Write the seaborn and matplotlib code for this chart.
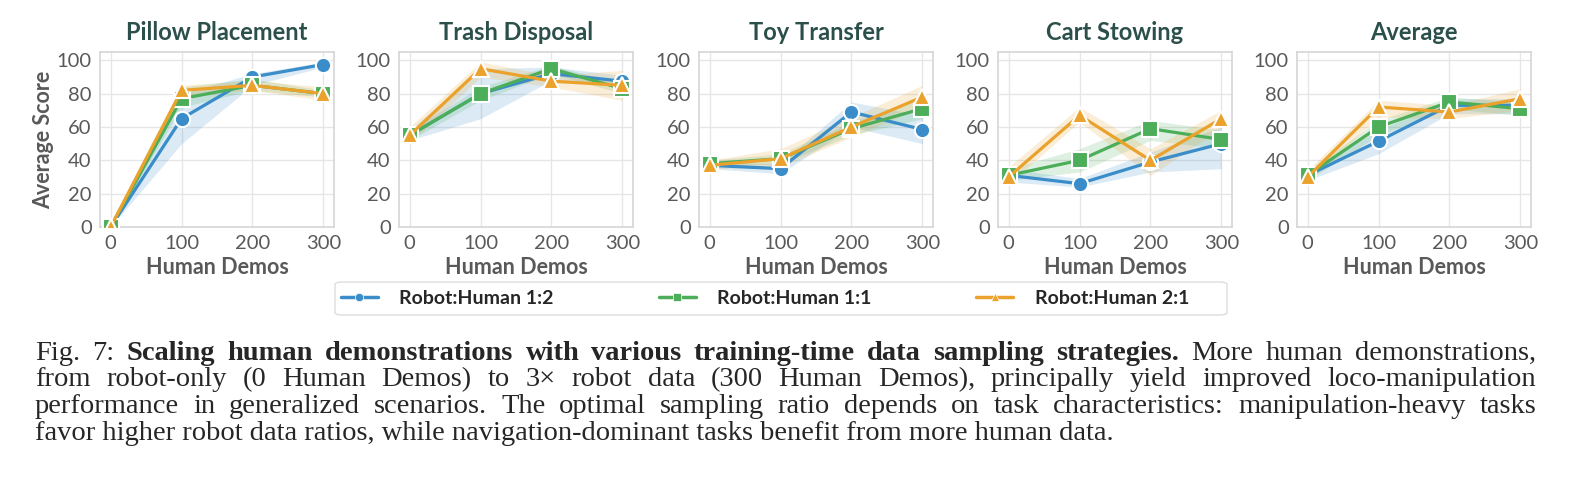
import numpy as np
import pandas as pd
import seaborn as sns
import matplotlib.pyplot as plt
from matplotlib import font_manager
from matplotlib.lines import Line2D
from matplotlib.patches import FancyBboxPatch

# ---- data ----
tasks = ["Pillow Placement", "Trash Disposal", "Toy Transfer", "Cart Stowing", "Average"]
demos = [0, 100, 200, 300]
ratios = ["Robot:Human 1:2", "Robot:Human 1:1", "Robot:Human 2:1"]

mean_12 = [[0, 65, 90, 97.5], [55, 80, 92, 87.5], [37, 35, 69, 58.5], [31, 26, 39, 50], [31, 51.5, 73, 73]]
mean_11 = [[0, 77, 85, 80], [55, 80, 95, 83], [38, 41, 59, 71], [31, 40, 59, 52.5], [31, 60, 75, 71]]
mean_21 = [[0, 82, 85, 80], [55, 95, 87.5, 85], [37, 41, 60, 78], [30, 67, 40, 65], [30, 72, 69, 77]]

lo_12 = [[0, 50, 85, 96], [52, 65, 88, 84], [35, 32, 60, 50], [27, 24, 33, 35], [28, 44, 68, 68]]
hi_12 = [[0, 80, 92, 99], [58, 95, 96, 91], [39, 38, 75, 67], [35, 29, 45, 60], [34, 58, 77, 77]]
lo_11 = [[0, 72, 82, 78], [52, 76, 92, 80], [36, 38, 55, 65], [28, 33, 52, 47], [28, 55, 71, 67]]
hi_11 = [[0, 84, 89, 82], [58, 84, 97, 86], [40, 44, 63, 77], [35, 47, 64, 58], [34, 64, 78, 75]]
lo_21 = [[0, 79, 82, 76], [50, 90, 84, 76], [35, 36, 54, 72], [26, 63, 31, 59], [27, 66, 65, 70]]
hi_21 = [[0, 85, 88, 84], [60, 99, 91, 94], [40, 47, 66, 85], [36, 72, 47, 70], [34, 76, 73, 83]]

caption = [
    [("Fig. 7:", "normal"), ("Scaling human demonstrations with various training-time data sampling strategies.", "bold"),
     ("More human demonstrations,", "normal")],
    [("from robot-only (0 Human Demos) to 3\u00d7 robot data (300 Human Demos), principally yield improved loco-manipulation", "normal")],
    [("performance in generalized scenarios. The optimal sampling ratio depends on task characteristics: manipulation-heavy tasks", "normal")],
    [("favor higher robot data ratios, while navigation-dominant tasks benefit from more human data.", "normal")],
]

means = [mean_12, mean_11, mean_21]
lows = [lo_12, lo_11, lo_21]
highs = [hi_12, hi_11, hi_21]

rows = []
for t, task in enumerate(tasks):
    for r, ratio in enumerate(ratios):
        for d, demo in enumerate(demos):
            rows.append({"task": task, "ratio": ratio, "demos": demo,
                         "score": means[r][t][d], "lo": lows[r][t][d], "hi": highs[r][t][d]})
df = pd.DataFrame(rows)

palette = {"Robot:Human 1:2": "#3a8dc8", "Robot:Human 1:1": "#4dae5a", "Robot:Human 2:1": "#eba22c"}
markers = {"Robot:Human 1:2": "o", "Robot:Human 1:1": "s", "Robot:Human 2:1": "^"}

fonts = font_manager.fontManager.ttflist
installed = set(f.name for f in fonts)


def pick(*names):
    for n in names:
        if n in installed:
            return [n, "DejaVu Sans"]
    return ["DejaVu Sans"]


# Raleway only if both regular and bold faces are really there
raleway_w = [f.weight for f in fonts if f.name == "Raleway"]
raleway_ok = any(w in (400, "normal", "regular") for w in raleway_w) and \
    any(w in (700, "bold") for w in raleway_w)
plot_font = ["Raleway", "DejaVu Sans"] if raleway_ok else pick("Lato")
serif_font = pick("Liberation Serif", "Tinos", "Nimbus Roman", "Times New Roman")

sns.set_style("whitegrid")
plt.rcParams["font.family"] = plot_font

W, H = 1574, 495
fig = plt.figure(figsize=(W / 100, H / 100), dpi=100)

lefts = [100, 399, 699, 998, 1297]
ax_w, top, bottom = 234, 52, 227
grey = "#595959"

for i, task in enumerate(tasks):
    ax = fig.add_axes([lefts[i] / W, (H - bottom) / H, ax_w / W, (bottom - top) / H])
    sub = df[df.task == task]
    for ratio in ratios:
        s = sub[sub.ratio == ratio]
        ax.fill_between(s.demos, s.lo, s.hi, color=palette[ratio], alpha=0.18, lw=0)
    sns.lineplot(data=sub, x="demos", y="score", hue="ratio", style="ratio", hue_order=ratios,
                 style_order=ratios, palette=palette, markers=markers, dashes=False,
                 linewidth=2.3, markersize=11, markeredgecolor="white", markeredgewidth=1.5,
                 legend=False, ax=ax, zorder=3)
    ax.set_xlim(-15, 315)
    ax.set_ylim(0, 105)
    ax.set_xticks(demos)
    ax.set_yticks([0, 20, 40, 60, 80, 100])
    ax.grid(color="#e6e6e6", lw=1)
    for sp in ax.spines.values():
        sp.set_color("#d6d6d6")
        sp.set_linewidth(1.2)
    ax.tick_params(axis="both", labelsize=14.5, colors=grey, length=4, width=1, color="#cccccc", pad=2)
    ax.set_title(task, fontsize=17, fontweight="bold", color="#2b4f4a", pad=9)
    ax.set_xlabel("Human Demos", fontsize=15.5, fontweight="bold", color=grey, labelpad=3)
    if i == 0:
        ax.set_ylabel("Average Score", fontsize=15.5, fontweight="bold", color=grey, labelpad=2)
    else:
        ax.set_ylabel("")

# legend: frame drawn separately so its width matches the reference box
frame = FancyBboxPatch((335 / W, (H - 315) / H), 892 / W, 33 / H,
                       boxstyle="round,pad=0,rounding_size=0.005", transform=fig.transFigure,
                       facecolor="white", edgecolor="#dddddd", lw=1.0)
fig.add_artist(frame)
handles = [Line2D([0], [0], color=palette[r], marker=markers[r], lw=2.5, markersize=6,
                  markeredgecolor="white", markeredgewidth=0.5) for r in ratios]
leg = fig.legend(handles, ratios, loc="center left", ncol=3,
                 bbox_to_anchor=(341 / W, (H - 298.5) / H),
                 frameon=False, handlelength=1.9, handletextpad=1.1, columnspacing=5.4,
                 borderaxespad=0, borderpad=0,
                 prop={"family": plot_font, "weight": "bold", "size": 14})

# ---- caption, justified between x0 and x1 ----
renderer = fig.canvas.get_renderer()
x0, x1 = 35, 1536
line_y = [360, 386.5, 413, 439.5]
cap_font = {"family": serif_font, "size": 20.5}


def width_of(txt, weight):
    t = fig.text(0, 0, txt, fontweight=weight, **cap_font)
    w = t.get_window_extent(renderer).width
    t.remove()
    return w


for li, parts in enumerate(caption):
    y = (H - line_y[li]) / H
    if li == len(caption) - 1:
        fig.text(x0 / W, y, parts[0][0], fontweight=parts[0][1], va="baseline", ha="left", **cap_font)
        continue
    words = []
    for txt, weight in parts:
        words += [(w, weight) for w in txt.split(" ")]
    widths = [width_of(w, wt) for w, wt in words]
    gap = (x1 - x0 - sum(widths)) / (len(words) - 1)
    x = x0
    for (w, wt), ww in zip(words, widths):
        fig.text(x / W, y, w, fontweight=wt, va="baseline", ha="left", **cap_font)
        x += ww + gap

fig.savefig("out.png", dpi=100)
